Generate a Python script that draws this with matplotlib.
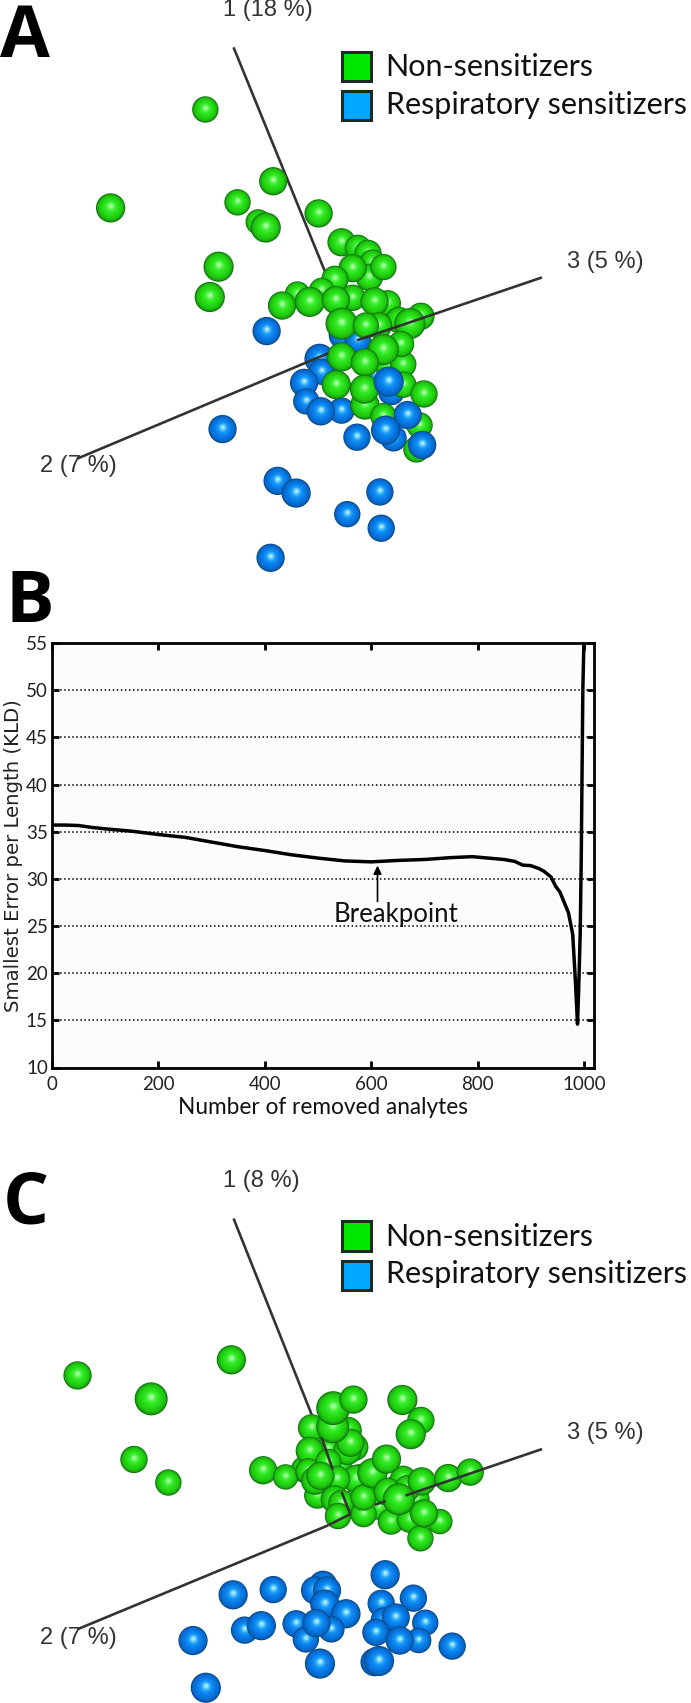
#!/usr/bin/env python3
import numpy as np
import matplotlib
matplotlib.use("Agg")
import matplotlib.pyplot as plt
from matplotlib.patches import Rectangle

W, H = 691, 1703
CROP = 1568

# panel A, back to front: x, y, radius, kind (g / b)
a_x = [780, 812, 850, 725, 730, 888, 893, 775, 812, 835, 845, 838, 800, 870, 760, 730, 675, 800, 880,
       640, 703, 762, 850, 955, 905, 860, 930, 775, 830, 880, 915, 910, 870, 690, 695, 775,
       728, 775, 828, 915, 828, 827, 763, 882, 870, 952, 945, 925, 875, 810, 958, 962, 605, 505,
       630, 672, 862, 788, 865, 614, 466, 620, 251, 539, 586, 603, 723, 496, 476]
a_y = [905, 920, 1010, 970, 1005, 1060, 1185, 655, 670, 685, 710, 750, 725, 722, 755, 785, 795, 805, 820,
       826, 816, 811, 815, 855, 865, 880, 875, 875, 880, 985, 985, 930, 945, 1035, 1085, 1110,
       1112, 965, 980, 1040, 1095, 1052, 1040, 1032, 1125, 1150, 1215, 1122, 1163, 1182, 1203, 1065, 895, 1160,
       1300, 1333, 1330, 1390, 1428, 1508, 296, 490, 562, 547, 600, 615, 577, 721, 803]
a_r = [32, 28, 28, 32, 28, 28, 28, 30, 28, 29, 28, 29, 30, 28, 29, 27, 27, 28, 28,
       30, 32, 30, 30, 29, 28, 28, 33, 34, 28, 29, 28, 28, 33, 30, 28, 28,
       30, 31, 30, 28, 31, 31, 31, 32, 28, 28, 28, 30, 31, 29, 30, 29, 30, 30,
       30, 31, 29, 28, 29, 30, 28, 30, 31, 28, 27, 32, 30, 32, 32]
a_k = ("bbbbbbb" "gggggggggggg"
       "gggggggggggggg" "bbb"
       "bggggggbgggbbbbgbb"
       "bbbbbb" "ggggggggg")

# panel C, back to front
c_x = [690, 745, 770, 850, 800, 720, 860, 905, 820, 945,
       790, 707, 703, 805, 788, 795, 755, 756, 802, 913, 955, 932, 597, 648, 700, 715, 745, 808,
       765, 727, 760, 775, 767, 825, 887, 930, 998, 954, 962, 825, 915, 845, 877, 880, 925, 957,
       1017, 1067, 905, 176, 525, 343, 304, 382,
       874, 733, 715, 742, 620, 529, 938, 865, 870, 737, 785, 898, 965, 555, 593, 672, 752, 694,
       718, 853, 950, 907, 1026, 438, 726, 850, 860, 467]
c_y = [940, 885, 940, 1010, 1030, 1010, 1040, 985, 960, 1020,
       835, 828, 890, 880, 890, 868, 825, 775, 752, 753, 808, 845, 942, 960, 945, 970, 920, 965,
       965, 957, 1020, 1030, 1065, 1060, 1080, 1075, 1080, 1125, 1058, 1015, 965, 950, 912, 1000, 990, 972,
       963, 947, 1020, 687, 645, 750, 913, 975,
       1223, 1250, 1265, 1265, 1263, 1277, 1286, 1300, 1345, 1302, 1328, 1338, 1352, 1372, 1360, 1355, 1370, 1397,
       1353, 1378, 1400, 1400, 1415, 1400, 1462, 1458, 1455, 1527]
c_r = [28, 28, 28, 28, 28, 28, 28, 28, 28, 28,
       29, 29, 30, 29, 30, 30, 35, 36, 30, 32, 29, 32, 30, 27, 28, 30, 28, 30,
       28, 30, 30, 28, 28, 28, 28, 28, 27, 28, 30, 28, 28, 32, 31, 30, 28, 30,
       30, 29, 34, 30, 31, 35, 29, 28,
       31, 30, 30, 30, 29, 31, 29, 29, 27, 31, 31, 30, 28, 29, 31, 29, 28, 28,
       30, 29, 27, 30, 29, 31, 32, 30, 32, 32]
c_k = "g" * 54 + "b" * 28

# panel B curve
kld_x = [0, 25, 50, 75, 100, 150, 200, 250, 300, 350, 400, 450, 500, 550, 600, 650, 700, 750, 790,
         830, 850, 870, 885, 900, 915, 925, 938, 947, 955, 963, 971, 979, 984, 988, 990, 993, 995, 998, 1000]
kld_y = [35.7, 35.7, 35.65, 35.45, 35.3, 35.05, 34.7, 34.4, 33.9, 33.4, 33.0, 32.55, 32.2, 31.9, 31.8, 31.95,
         32.05, 32.25, 32.35, 32.15, 32.05, 31.85, 31.45, 31.4, 31.1, 30.8, 30.2, 29.2, 28.6, 27.5, 26.4, 24.1, 19.2,
         14.6, 18, 24, 32, 50, 55]
yticks = [10, 15, 20, 25, 30, 35, 40, 45, 50, 55]
xticks = [0, 200, 400, 600, 800, 1000]

legend_labels = ["Non-sensitizers", "Respiratory sensitizers"]
legend_colors = ["#00e800", "#00a6ff"]

GREEN = np.array([[14, 115, 12], [24, 160, 15], [32, 198, 15], [38, 220, 20], [50, 235, 40], [95, 245, 85], [175, 250, 165]]) / 255
BLUE = np.array([[10, 70, 132], [8, 95, 182], [5, 110, 212], [10, 125, 235], [20, 150, 245], [75, 190, 250], [175, 235, 255]]) / 255
STOPS = [1.0, 0.94, 0.82, 0.6, 0.38, 0.24, 0.1]


def draw_spheres(ax, xs, ys, rs, kinds):
    # one scatter, array order keeps the overlap order and the shading rings
    fracs = np.linspace(1, 0.08, 18)
    px = []
    py = []
    sz = []
    col = []
    k = W / CROP
    yk = ax.get_window_extent().height / CROP
    for x, y, r, kind in zip(xs, ys, rs, kinds):
        pal = GREEN if kind == "g" else BLUE
        r = r * 1.07
        for f in fracs:
            px.append(x + 0.03 * r * (1 - f))
            # y crop units are squashed compared with x
            py.append(y - 0.14 * r * (1 - f) * k / yk)
            sz.append((2 * r * f * k * 72 / 100) ** 2)
            col.append([np.interp(1 - f, 1 - np.array(STOPS), pal[:, c]) for c in range(3)])
    ax.scatter(px, py, s=sz, c=col, marker="o", linewidths=0, zorder=3, clip_on=False)


def panel_axes(top, bottom):
    ax = fig.add_axes([0, 1 - bottom / H, 1, (bottom - top) / H])
    ax.set_xlim(0, CROP)
    ax.set_ylim(CROP, 0)
    ax.axis("off")
    return ax


def legend(ax, ys, text_ys):
    for y, ty, lab, c in zip(ys, text_ys, legend_labels, legend_colors):
        ax.add_patch(Rectangle((775, y), 67, 80, fc=c, ec="#1c2b22", lw=2.2, zorder=5))
        ax.text(875, ty, lab, fontsize=22, family="Lato", va="center", ha="left", color="#111111", zorder=6)


def axis_label(ax, x, y, s):
    ax.text(x, y, s, fontsize=17, family="Liberation Sans", color="#333333", va="center", ha="left", zorder=6,
            clip_on=False)


def axis_line(ax, x0, y0, x1, y1, z):
    ax.plot([x0, x1], [y0, y1], color="#333333", lw=1.9, zorder=z, solid_capstyle="butt")


fig = plt.figure(figsize=(W / 100, H / 100), dpi=100, facecolor="white")

# A
ax_a = panel_axes(0, 580)
axis_line(ax_a, 530, 128, 760, 800, 1)
axis_line(ax_a, 175, 1240, 745, 955, 4)
axis_line(ax_a, 810, 920, 1230, 750, 4)
draw_spheres(ax_a, a_x, a_y, a_r, a_k)
axis_label(ax_a, 505, 26, "1 (18 %)")
axis_label(ax_a, 1286, 708, "3 (5 %)")
axis_label(ax_a, 90, 1260, "2 (7 %)")
legend(ax_a, [140, 245], [182, 285])

# B
ax_b = fig.add_axes([52 / W, 1 - 1067.5 / H, (594 - 52) / W, (1067.5 - 643) / H])
ax_b.set_facecolor("#fcfcfc")
ax_b.plot(kld_x, kld_y, color="black", lw=2.5, zorder=3)
ax_b.set_xlim(0, 1019)
ax_b.set_ylim(10, 55)
ax_b.set_xticks(xticks)
ax_b.set_yticks(yticks)
ax_b.grid(axis="y", color="black", ls=":", lw=1.1, zorder=1)
ax_b.tick_params(direction="in", top=True, right=True, length=5, width=2, labelsize=13.5, pad=3)
ax_b.tick_params(axis="x", pad=6)
for lab in ax_b.get_xticklabels() + ax_b.get_yticklabels():
    lab.set_family("Lato")
    lab.set_color("#222222")
for s in ax_b.spines.values():
    s.set_linewidth(2)
ax_b.set_xlabel("Number of removed analytes", fontsize=16.3, family="Lato", labelpad=3, color="#111111")
ax_b.set_ylabel("Smallest Error per Length (KLD)", fontsize=14.2, family="DejaVu Sans", labelpad=2, color="#222222")
ax_b.annotate("", xy=(612, 31.4), xytext=(612, 27.6),
              arrowprops=dict(arrowstyle="-|>", color="black", lw=1.2, mutation_scale=12, shrinkA=0, shrinkB=0))
ax_b.text(646, 26.2, "Breakpoint", fontsize=18.5, family="Lato", ha="center", va="center", color="#111111")

# C
ax_c = panel_axes(1120, 1703)
axis_line(ax_c, 530, 265, 730, 860, 1)
axis_line(ax_c, 730, 855, 755, 940, 4)
axis_line(ax_c, 775, 1000, 795, 1060, 4)
axis_line(ax_c, 175, 1370, 745, 1090, 4)
axis_line(ax_c, 745, 1090, 795, 1060, 4)
axis_line(ax_c, 850, 1035, 875, 1025, 4)
axis_line(ax_c, 920, 1010, 1230, 885, 4)
draw_spheres(ax_c, c_x, c_y, c_r, c_k)
axis_label(ax_c, 505, 163, "1 (8 %)")
axis_label(ax_c, 1286, 842, "3 (5 %)")
axis_label(ax_c, 90, 1392, "2 (7 %)")
legend(ax_c, [272, 378], [315, 415])

# panel letters
for s, x, y in [("A", 0, 38), ("B", 5, 603), ("C", 3, 1205)]:
    fig.text(x / W, 1 - y / H, s, fontsize=52, family="Open Sans", weight="bold", va="center", ha="left", color="black")

fig.savefig("out.png", dpi=100)
